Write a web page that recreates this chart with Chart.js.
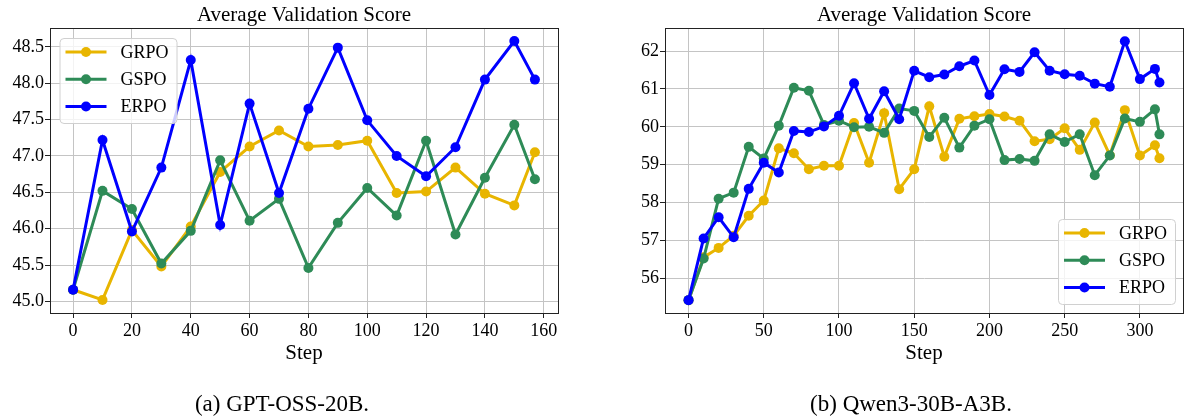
<!DOCTYPE html>
<html>
<head>
<meta charset="utf-8">
<script src="https://cdn.jsdelivr.net/npm/chart.js@4.4.1/dist/chart.umd.min.js"></script>
<style>
  body { margin: 0; background: #fff; }
  #wrap { position: relative; width: 1188px; height: 418px; }
  canvas { position: absolute; top: 0; }
  .cap {
    position: absolute; top: 392px; width: 400px; text-align: center;
    font: 23px 'Liberation Serif', 'Times New Roman', serif; line-height: 23px; color: #000;
  }
</style>
</head>
<body>
<div id="wrap">
  <canvas id="left" width="594" height="418" style="left:0"></canvas>
  <canvas id="right" width="594" height="418" style="left:594px"></canvas>
  <div class="cap" style="left:82px">(a) GPT-OSS-20B.</div>
  <div class="cap" style="left:711px">(b) Qwen3-30B-A3B.</div>
</div>
<script>
// ---- data: (a) GPT-OSS-20B ----
const leftSteps = [0, 10, 20, 30, 40, 50, 60, 70, 80, 90, 100, 110, 120, 130, 140, 150, 157];
const leftGrpo = [45.16, 45.02, 45.98, 45.48, 46.03, 46.78, 47.13, 47.35, 47.13, 47.15, 47.21, 46.49, 46.51, 46.84, 46.48, 46.32, 47.05];
const leftGspo = [45.16, 46.52, 46.27, 45.52, 45.97, 46.94, 46.11, 46.41, 45.46, 46.08, 46.56, 46.18, 47.21, 45.92, 46.70, 47.43, 46.68];
const leftErpo = [45.16, 47.22, 45.96, 46.84, 48.32, 46.05, 47.72, 46.49, 47.65, 48.49, 47.49, 47.00, 46.72, 47.12, 48.05, 48.58, 48.05];
const leftXTicks = [0, 20, 40, 60, 80, 100, 120, 140, 160];
const leftYTicks = [45.0, 45.5, 46.0, 46.5, 47.0, 47.5, 48.0, 48.5];

// ---- data: (b) Qwen3-30B-A3B ----
const rightSteps = [0, 10, 20, 30, 40, 50, 60, 70, 80, 90, 100, 110, 120, 130, 140, 150, 160, 170, 180, 190,
  200, 210, 220, 230, 240, 250, 260, 270, 280, 290, 300, 310, 313];
const rightGrpo = [55.42, 56.55, 56.80, 57.12, 57.65, 58.05, 59.43, 59.30, 58.88, 58.97, 58.97, 60.10, 59.05, 60.36, 58.35, 58.88, 60.54, 59.21, 60.21, 60.28,
  60.34, 60.27, 60.16, 59.62, 59.67, 59.96, 59.39, 60.11, 59.25, 60.44, 59.24, 59.51, 59.17];
const rightGspo = [55.42, 56.52, 58.10, 58.26, 59.47, 59.16, 60.03, 61.03, 60.95, 60.05, 60.16, 59.99, 60.00, 59.84, 60.48, 60.42, 59.73, 60.24, 59.45, 60.03,
  60.20, 59.12, 59.15, 59.10, 59.80, 59.60, 59.80, 58.72, 59.24, 60.22, 60.13, 60.46, 59.80];
const rightErpo = [55.42, 57.05, 57.61, 57.08, 58.36, 59.05, 58.79, 59.89, 59.86, 60.01, 60.29, 61.15, 60.21, 60.94, 60.20, 61.48, 61.31, 61.38, 61.60, 61.75,
  60.84, 61.52, 61.45, 61.97, 61.48, 61.39, 61.35, 61.14, 61.06, 62.26, 61.26, 61.53, 61.17];
const rightXTicks = [0, 50, 100, 150, 200, 250, 300];
const rightYTicks = [56, 57, 58, 59, 60, 61, 62];

const seriesNames = ['GRPO', 'GSPO', 'ERPO'];
const seriesColors = ['#e8b500', '#2e8b57', '#0000ff'];

const FONT = "'Liberation Serif', 'Times New Roman', serif";

function pts(xs, ys) {
  return xs.map((x, i) => ({ x: x, y: ys[i] }));
}

// title centred on the plot area, like matplotlib
const panelTitle = {
  id: 'panelTitle',
  afterDraw(chart, args, opts) {
    const { ctx, chartArea } = chart;
    ctx.save();
    ctx.font = '21px ' + FONT;
    ctx.fillStyle = '#000';
    ctx.textAlign = 'center';
    ctx.textBaseline = 'alphabetic';
    ctx.fillText(opts.text, (chartArea.left + chartArea.right) / 2, 21);
    ctx.restore();
  }
};

// top + right spines
const frame = {
  id: 'frame',
  afterDatasetsDraw(chart) {
    const { ctx, chartArea } = chart;
    ctx.save();
    ctx.strokeStyle = '#222';
    ctx.lineWidth = 1;
    ctx.strokeRect(Math.round(chartArea.left) + 0.5, Math.round(chartArea.top) + 0.5,
      Math.round(chartArea.right - chartArea.left), Math.round(chartArea.bottom - chartArea.top));
    ctx.restore();
  }
};

// legend box inside the axes
const boxLegend = {
  id: 'boxLegend',
  afterDraw(chart, args, opts) {
    const { ctx, chartArea } = chart;
    const w = 117, h = 85;
    const bx = opts.corner === 'tl' ? chartArea.left + 9.5 : chartArea.right - 8 - w;
    const by = opts.corner === 'tl' ? chartArea.top + 10 : chartArea.bottom - 9 - h;
    ctx.save();
    ctx.beginPath();
    ctx.roundRect(bx + 0.5, by + 0.5, w, h, 4);
    ctx.fillStyle = 'rgba(255,255,255,0.8)';
    ctx.fill();
    ctx.strokeStyle = '#d0d0d0';
    ctx.lineWidth = 1;
    ctx.stroke();
    const rows = [14, 41.3, 68.5];
    chart.data.datasets
      .slice()
      .sort((a, b) => seriesNames.indexOf(a.label) - seriesNames.indexOf(b.label))
      .forEach((ds, i) => {
        const yy = by + rows[i];
        ctx.strokeStyle = ds.borderColor;
        ctx.lineWidth = 3;
        ctx.beginPath();
        ctx.moveTo(bx + 6, yy);
        ctx.lineTo(bx + 47, yy);
        ctx.stroke();
        ctx.fillStyle = ds.borderColor;
        ctx.beginPath();
        ctx.arc(bx + 26.5, yy, 5, 0, Math.PI * 2);
        ctx.fill();
        ctx.fillStyle = '#000';
        ctx.font = '18px ' + FONT;
        ctx.textBaseline = 'middle';
        ctx.textAlign = 'left';
        ctx.fillText(ds.label, bx + 61, yy + 1);
      });
    ctx.restore();
  }
};

function makeChart(id, o) {
  const ys = [o.grpo, o.gspo, o.erpo];
  const datasets = seriesNames.map((name, i) => ({
    label: name,
    data: pts(o.steps, ys[i]),
    borderColor: seriesColors[i],
    backgroundColor: seriesColors[i],
    borderWidth: 3,
    pointRadius: 5,
    pointBorderWidth: 0,
    pointHoverRadius: 5,
    tension: 0,
    order: 2 - i
  }));
  return new Chart(document.getElementById(id), {
    type: 'line',
    data: { datasets: datasets },
    options: {
      responsive: false,
      animation: false,
      events: [],
      layout: { padding: { top: 28, left: 0, right: o.padRight, bottom: 0 } },
      plugins: {
        legend: { display: false },
        tooltip: { enabled: false },
        panelTitle: { text: 'Average Validation Score' },
        boxLegend: { corner: o.legendCorner }
      },
      scales: {
        x: {
          type: 'linear',
          min: o.xMin,
          max: o.xMax,
          afterBuildTicks: s => { s.ticks = o.xTicks.map(v => ({ value: v })); },
          afterFit: s => { s.height = 105; },
          ticks: { font: { family: FONT, size: 18 }, color: '#000', padding: 2, maxRotation: 0 },
          grid: { color: '#c4c4c4', lineWidth: 1, tickColor: '#222', tickLength: 5, drawTicks: true },
          border: { display: true, color: '#222', width: 1 },
          title: {
            display: true, text: 'Step', color: '#000',
            font: { family: FONT, size: 21, lineHeight: 1.2 },
            padding: { top: 0, bottom: 52 }
          }
        },
        y: {
          type: 'linear',
          min: o.yMin,
          max: o.yMax,
          afterBuildTicks: s => { s.ticks = o.yTicks.map(v => ({ value: v })); },
          afterFit: s => { s.width = o.yWidth; },
          ticks: {
            font: { family: FONT, size: 18 }, color: '#000', padding: 1,
            callback: v => o.yFmt(v)
          },
          grid: { color: '#c4c4c4', lineWidth: 1, tickColor: '#222', tickLength: 5, drawTicks: true },
          border: { display: true, color: '#222', width: 1 }
        }
      }
    },
    plugins: [panelTitle, frame, boxLegend]
  });
}

makeChart('left', {
  steps: leftSteps, grpo: leftGrpo, gspo: leftGspo, erpo: leftErpo,
  xTicks: leftXTicks, yTicks: leftYTicks,
  xMin: -7.85, xMax: 164.85, yMin: 44.84, yMax: 48.76,
  yWidth: 50, padRight: 36, legendCorner: 'tl',
  yFmt: v => v.toFixed(1)
});

makeChart('right', {
  steps: rightSteps, grpo: rightGrpo, gspo: rightGspo, erpo: rightErpo,
  xTicks: rightXTicks, yTicks: rightYTicks,
  xMin: -15.65, xMax: 328.65, yMin: 55.08, yMax: 62.61,
  yWidth: 71, padRight: 1, legendCorner: 'br',
  yFmt: v => String(v)
});
</script>
</body>
</html>
